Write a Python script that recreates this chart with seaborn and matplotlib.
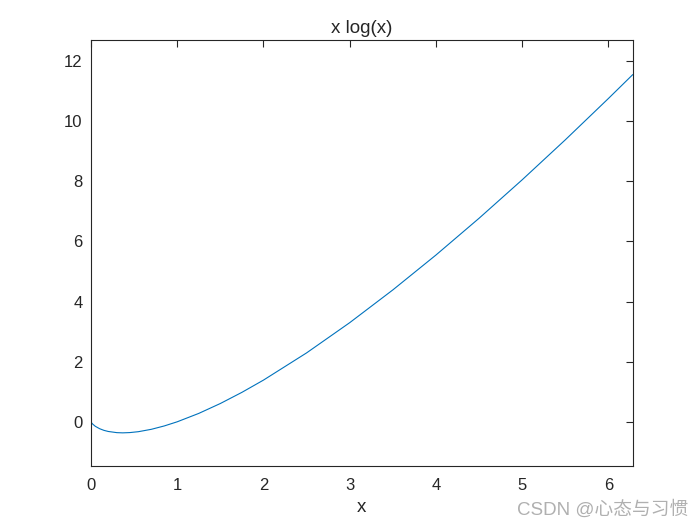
import numpy as np
import pandas as pd
import matplotlib
matplotlib.use("Agg")
import matplotlib.pyplot as plt
import seaborn as sns

# values
x_vals = [0.0, 0.005, 0.01, 0.02, 0.05, 0.1, 0.15, 0.2, 0.3, 0.368, 0.45, 0.55,
          0.7, 0.85, 1.0, 1.25, 1.5, 1.75, 2.0, 2.5, 3.0, 3.5, 4.0, 4.5,
          5.0, 5.5, 6.0, 6.283]
y_vals = [0.0, -0.026, -0.046, -0.078, -0.150, -0.230, -0.285, -0.322, -0.361, -0.368, -0.359, -0.329,
          -0.250, -0.138, 0.0, 0.279, 0.608, 0.979, 1.386, 2.291, 3.296, 4.385, 5.545, 6.768,
          8.047, 9.376, 10.751, 11.547]

x_ticks = [0, 1, 2, 3, 4, 5, 6]
y_ticks = [0, 2, 4, 6, 8, 10, 12]

df = pd.DataFrame({"x": x_vals, "y": y_vals})

sns.set_style("white")
plt.rcParams["font.family"] = ["Liberation Sans", "Noto Sans CJK SC", "DejaVu Sans"]

fig = plt.figure(figsize=(7, 5.25), dpi=100)
ax = fig.add_axes([0.130, 0.1124, 0.774, 0.8116])

sns.lineplot(data=df, x="x", y="y", ax=ax, color="#0072BD", linewidth=0.8)

ax.set_xlim(0, 6.283)
ax.set_ylim(-1.47, 12.7)
ax.set_xticks(x_ticks)
ax.set_yticks(y_ticks)
ax.tick_params(direction="in", length=5, width=0.8, top=True, right=True,
               labelsize=12, colors="#262626", pad=6)
ax.tick_params(axis="x", pad=9)
for s in ax.spines.values():
    s.set_color("#262626")
    s.set_linewidth(0.8)

ax.set_title("x log(x)", fontsize=13.5, color="#262626", pad=5)
ax.set_xlabel("x", fontsize=13.5, color="#262626", labelpad=4)
ax.set_ylabel("")

fig.text(0.983, 0.012, "CSDN @心态与习惯", ha="right", va="bottom",
         fontsize=13.5, color="#b0b0b0",
         family=["Liberation Sans", "Noto Sans CJK SC"])

fig.savefig("out.png", dpi=100, facecolor="white")
